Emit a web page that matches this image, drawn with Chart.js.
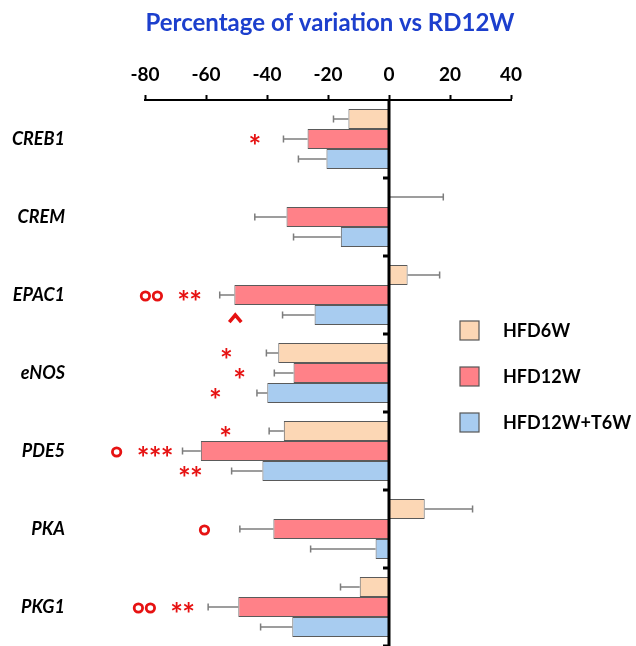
<!DOCTYPE html>
<html>
<head>
<meta charset="utf-8">
<script src="https://cdn.jsdelivr.net/npm/chart.js@4.4.1/dist/chart.umd.min.js"></script>
<style>
  html, body { margin: 0; padding: 0; background: #fff; }
  #wrap { width: 636px; height: 646px; }
</style>
</head>
<body>
<div id="wrap"><canvas id="grafico"></canvas></div>
<script>
const genes = ['CREB1', 'CREM', 'EPAC1', 'eNOS', 'PDE5', 'PKA', 'PKG1'];
const grupos = ['HFD6W', 'HFD12W', 'HFD12W+T6W'];
const hfd6w = [-13.3, 0, 6.1, -36.3, -34.5, 11.7, -9.6];
const hfd12w = [-26.7, -33.6, -50.7, -31.3, -61.7, -37.9, -49.4];
const hfd12wT6w = [-20.5, -15.8, -24.4, -39.9, -41.5, -4.4, -31.7];
const erroHfd6w = [4.9, 17.8, 10.5, 3.9, 4.8, 15.7, 6.3];
const erroHfd12w = [7.9, 10.4, 4.8, 6.3, 6.0, 11.0, 9.9];
const erroHfd12wT6w = [9.2, 15.5, 10.5, 3.4, 10.1, 21.3, 10.4];
const ticksX = [-80, -60, -40, -20, 0, 20, 40];
// marcas de significância: [gene, série, valor x, símbolos]
const marcas = [
  [0, 1, -44, '*'],
  [2, 1, -77.9, 'oo'], [2, 1, -65.4, '**'], [2, 2, -50.4, '^'],
  [3, 0, -53.3, '*'], [3, 1, -49, '*'], [3, 2, -56.9, '*'],
  [4, 0, -53.6, '*'], [4, 1, -89.3, 'o'], [4, 1, -76.7, '***'], [4, 2, -65.1, '**'],
  [5, 1, -60.5, 'o'],
  [6, 1, -80.2, 'oo'], [6, 1, -67.7, '**']
];

const cores = ['rgb(252,215,181)', 'rgb(255,129,136)', 'rgb(168,204,240)'];
const fonte = 'Lato, "Open Sans", sans-serif';

const extras = {
  id: 'extras',
  afterDatasetsDraw(chart) {
    const ctx = chart.ctx;
    const x = chart.scales.x;
    const area = chart.chartArea;

    // barras de erro (só para fora)
    ctx.save();
    ctx.strokeStyle = 'rgb(125,125,125)';
    ctx.lineWidth = 1.5;
    chart.data.datasets.forEach((ds, i) => {
      chart.getDatasetMeta(i).data.forEach((bar, j) => {
        const v = ds.data[j];
        const e = ds.erros[j];
        const fim = x.getPixelForValue(v >= 0 ? v + e : v - e);
        ctx.beginPath();
        ctx.moveTo(bar.x, bar.y);
        ctx.lineTo(fim, bar.y);
        ctx.moveTo(fim, bar.y - 3.5);
        ctx.lineTo(fim, bar.y + 3.5);
        ctx.stroke();
      });
    });
    ctx.restore();

    // linha do zero + tracinhos entre genes
    const x0 = x.getPixelForValue(0);
    ctx.save();
    ctx.strokeStyle = '#000';
    ctx.lineWidth = 3;
    ctx.beginPath();
    ctx.moveTo(x0, area.top);
    ctx.lineTo(x0, area.bottom);
    ctx.stroke();
    const banda = (area.bottom - area.top) / genes.length;
    for (let k = 1; k <= genes.length; k++) {
      const yy = area.top + banda * k;
      ctx.beginPath();
      ctx.moveTo(x0, yy);
      ctx.lineTo(x0 - 6, yy);
      ctx.stroke();
    }
    ctx.restore();

    // marcas de significância
    ctx.save();
    ctx.fillStyle = 'rgb(230,18,18)';
    ctx.strokeStyle = 'rgb(230,18,18)';
    marcas.forEach(([g, s, v, txt]) => {
      const bar = chart.getDatasetMeta(s).data[g];
      const cx = x.getPixelForValue(v);
      const passo = 12;
      const ini = cx - (txt.length - 1) * passo / 2;
      for (let c = 0; c < txt.length; c++) {
        const px = ini + c * passo;
        const ch = txt[c];
        if (ch === 'o') {
          ctx.lineWidth = 2.8;
          ctx.beginPath();
          ctx.arc(px, bar.y + 1, 4.2, 0, Math.PI * 2);
          ctx.stroke();
        } else if (ch === '^') {
          ctx.lineWidth = 3.5;
          ctx.lineJoin = 'miter';
          ctx.beginPath();
          ctx.moveTo(px - 6, bar.y + 7);
          ctx.lineTo(px, bar.y);
          ctx.lineTo(px + 6, bar.y + 7);
          ctx.stroke();
        } else {
          ctx.font = 'bold 30px ' + fonte;
          ctx.textAlign = 'center';
          ctx.textBaseline = 'middle';
          ctx.fillText('*', px, bar.y + 8);
        }
      }
    });
    ctx.restore();
  },
  afterDraw(chart) {
    const ctx = chart.ctx;
    ctx.save();
    // título
    ctx.fillStyle = 'rgb(28,63,205)';
    ctx.font = 'bold 24px ' + fonte;
    ctx.textAlign = 'center';
    ctx.textBaseline = 'middle';
    ctx.fillText('Percentage of variation vs RD12W', 330, 23);
    // legenda
    ctx.font = 'bold 18px ' + fonte;
    ctx.textAlign = 'left';
    chart.data.datasets.forEach((ds, i) => {
      const by = 321 + i * 46;
      ctx.fillStyle = ds.backgroundColor;
      ctx.fillRect(460, by, 19, 19);
      ctx.strokeStyle = '#555';
      ctx.lineWidth = 1.2;
      ctx.strokeRect(460, by, 19, 19);
      ctx.fillStyle = '#000';
      ctx.fillText(ds.label, 503, by + 10);
    });
    ctx.restore();
  }
};

const series = [hfd6w, hfd12w, hfd12wT6w];
const erros = [erroHfd6w, erroHfd12w, erroHfd12wT6w];

new Chart(document.getElementById('grafico'), {
  type: 'bar',
  data: {
    labels: genes,
    datasets: grupos.map((g, i) => ({
      label: g,
      data: series[i],
      erros: erros[i],
      backgroundColor: cores[i],
      borderColor: 'rgb(90,90,90)',
      borderWidth: 1,
      barPercentage: 1,
      categoryPercentage: 0.77
    }))
  },
  options: {
    indexAxis: 'y',
    responsive: true,
    maintainAspectRatio: false,
    animation: false,
    layout: { padding: { top: 34, right: 125, left: 0, bottom: 0 } },
    plugins: {
      legend: { display: false },
      title: { display: false },
      tooltip: { enabled: false }
    },
    scales: {
      x: {
        position: 'top',
        min: -80,
        max: 40,
        afterBuildTicks: (s) => { s.ticks = ticksX.map(v => ({ value: v })); },
        afterFit: (s) => { s.height = 66; s.paddingLeft = 0; s.paddingRight = 0; },
        ticks: {
          color: '#000',
          padding: 9,
          font: { family: fonte, size: 19, weight: 'bold' }
        },
        grid: {
          drawOnChartArea: false,
          color: 'transparent',
          tickColor: '#000',
          tickLength: 5,
          tickWidth: 2
        },
        border: { display: true, color: '#000', width: 2 }
      },
      y: {
        afterFit: (s) => { s.width = 145; s.paddingTop = 0; s.paddingBottom = 0; },
        ticks: {
          color: '#000',
          padding: 80,
          font: { family: fonte, size: 18, weight: 'bold', style: 'italic' }
        },
        grid: { display: false, drawTicks: false },
        border: { display: false }
      }
    }
  },
  plugins: [extras]
});
</script>
</body>
</html>
